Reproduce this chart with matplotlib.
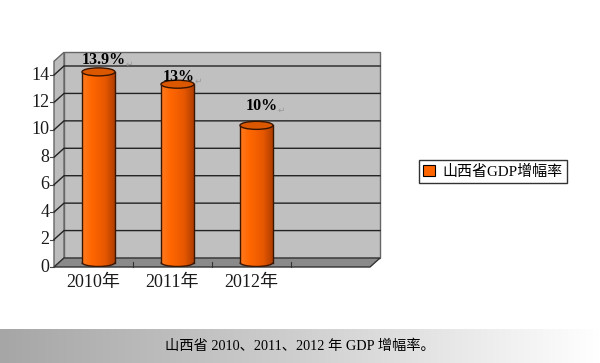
import numpy as np
import matplotlib

matplotlib.use("Agg")
import matplotlib.pyplot as plt
from matplotlib.patches import Rectangle, Polygon, Ellipse, Arc, Patch
from matplotlib.colors import LinearSegmentedColormap

plt.rcParams["font.family"] = ["Liberation Serif", "Noto Sans CJK SC", "DejaVu Sans"]

years = ["2010年", "2011年", "2012年"]
growth = [13.9, 13.0, 10.0]
value_labels = ["13.9%", "13%", "10%"]
y_ticks = [0, 2, 4, 6, 8, 10, 12, 14]
legend_label = "山西省GDP增幅率"
caption = "山西省 2010、2011、2012 年 GDP 增幅率。"

# hand placed data labels in the original (pixels from the bar top)
label_dx = [5, 1, 5]
label_dy = [12, 7, 19]

W, H, DPI = 600, 363, 100
fig = plt.figure(figsize=(W / DPI, H / DPI), dpi=DPI)

# front plane of the fake 3d box, in pixels
x0, x1 = 54, 370
y_front = H - 267
n_slots = 4
ymax = 15
px_unit = 192 / 14
ax = fig.add_axes([x0 / W, y_front / H, (x1 - x0) / W, ymax * px_unit / H])
ax.axis("off")

# depth of the box in data units (10 px right, 9 px up)
dx = 10 * n_slots / (x1 - x0)
dy = 9 / px_unit

wall = "#c0c0c0"
line = "#222222"

# walls and floor
ax.add_patch(Rectangle((dx, dy), n_slots, ymax, fc=wall, ec="#666666", lw=1, clip_on=False, zorder=1))
ax.add_patch(Polygon([(0, 0), (dx, dy), (dx, ymax + dy), (0, ymax)], closed=True,
                     fc="#bcbcbc", ec="#666666", lw=1, clip_on=False, zorder=1))
ax.add_patch(Polygon([(0, 0), (n_slots, 0), (n_slots + dx, dy), (dx, dy)], closed=True,
                     fc="#8a8a8a", ec="#333333", lw=1, clip_on=False, zorder=2))

for t in y_ticks[1:]:
    ax.plot([0, dx, n_slots + dx], [t, t + dy, t + dy], color=line, lw=1, clip_on=False, zorder=2)

# y axis ticks and labels on the front edge
tick_x = 4 * n_slots / (x1 - x0)
for t in y_ticks:
    ax.plot([-tick_x, 0], [t, t], color="#444444", lw=0.8, clip_on=False, zorder=2)
    ax.text(-tick_x - 0.01, t, str(t), ha="right", va="center", fontsize=13, color="#1a1a1a")

# category ticks and labels
for k in range(1, n_slots):
    ax.plot([k, k], [0, 5 / px_unit], color="#333333", lw=0.8, clip_on=False, zorder=3)
for i, lab in enumerate(years):
    ax.text(i + 0.5, -16 / px_unit, lab, ha="center", va="center", fontsize=13, color="#1a1a1a")

# cylinders
body_cmap = LinearSegmentedColormap.from_list(
    "cyl", [(0, "#ff7a1f"), (0.3, "#ff6600"), (0.7, "#e85800"), (1, "#b03e00")])
grad = np.linspace(0, 1, 256).reshape(1, -1)
bw = 33 * n_slots / (x1 - x0)
eh = 8 / px_unit
xs = [i + 0.5 + dx / 2 for i in range(len(growth))]
base = dy / 2
bars = ax.bar(xs, growth, width=bw, bottom=base, color="none", edgecolor="none", zorder=4)

for i, (bar, v) in enumerate(zip(bars, growth)):
    xc = xs[i]
    top = v + base
    bottom_ell = Ellipse((xc, base), bw, eh, fc="none", ec="none")
    ax.add_patch(bottom_ell)
    for clip in (bar, bottom_ell):
        im = ax.imshow(grad, cmap=body_cmap, aspect="auto", zorder=4,
                       extent=[xc - bw / 2, xc + bw / 2, base - eh, top])
        im.set_clip_path(clip)
    ax.plot([xc - bw / 2, xc - bw / 2], [base, top], color="#3a1500", lw=1, zorder=5)
    ax.plot([xc + bw / 2, xc + bw / 2], [base, top], color="#3a1500", lw=1, zorder=5)
    ax.add_patch(Arc((xc, base), bw, eh, theta1=180, theta2=360, color="#3a1500", lw=1, zorder=5))
    ax.add_patch(Ellipse((xc, top), bw, eh, fc="#dc5800", ec="#3a1500", lw=1, zorder=6))

    txt = ax.annotate(value_labels[i], xy=(xc, top), xytext=(label_dx[i], label_dy[i]),
                      textcoords="offset pixels", ha="center", va="center",
                      fontsize=11.5, fontweight="bold", color="black", zorder=7)
    ax.annotate("↵", xy=(1, 0.25), xycoords=txt, ha="left", va="center",
                fontsize=6.5, color="#9a9a9a", family="DejaVu Sans", zorder=7)

ax.set_xlim(0, n_slots)
ax.set_ylim(0, ymax)

# legend
fig.legend(handles=[Patch(fc="#ff6600", ec="black", lw=0.8)], labels=[legend_label],
           loc="center", bbox_to_anchor=(493 / W, 1 - 171.5 / H), fontsize=10.8,
           frameon=True, fancybox=False, framealpha=1, edgecolor="#333333",
           handlelength=0.8, handleheight=0.8, handletextpad=0.5, borderpad=0.3)

# caption band with grey to white gradient
cap_ax = fig.add_axes([0, 0, 1, 34 / H])
cap_cmap = LinearSegmentedColormap.from_list("cap", ["#a6a6a6", "#cfcfcf", "#ffffff"])
cap_ax.imshow(grad, cmap=cap_cmap, aspect="auto", extent=[0, 1, 0, 1])
cap_ax.axis("off")
cap_ax.text(0.5, 0.5, caption, ha="center", va="center", fontsize=10.3, color="black")

fig.savefig("out.png", dpi=DPI)
